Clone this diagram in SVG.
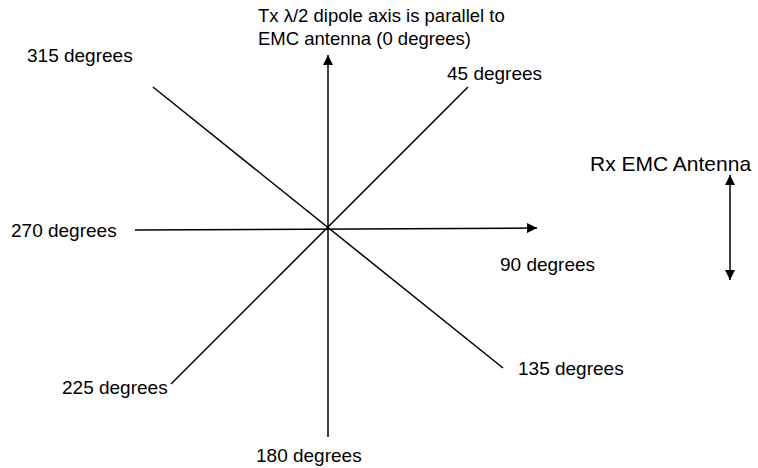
<svg xmlns="http://www.w3.org/2000/svg" width="758" height="468" viewBox="0 0 758 468">
<style>
text{font-family:"Liberation Sans",Arial,sans-serif;fill:#000}
.lbl{font-size:19px}
.top{font-size:18.5px}
.rx{font-size:21px}
.ln{stroke:#000;stroke-width:1.5;fill:none}
</style>
<defs>
<marker id="ah" markerUnits="userSpaceOnUse" markerWidth="10" markerHeight="10" refX="10" refY="5" orient="auto">
<path d="M0,0 L10,5 L0,10 z" fill="#000"/>
</marker>
</defs>
<rect width="758" height="468" fill="#fff"/>
<g id="connectors">
<line class="ln" x1="328" y1="437" x2="328" y2="55" marker-end="url(#ah)"/>
<line class="ln" x1="135" y1="230" x2="537" y2="228" marker-end="url(#ah)"/>
<line class="ln" x1="153" y1="87" x2="503" y2="368"/>
<line class="ln" x1="468" y1="87" x2="171" y2="384"/>
<line class="ln" x1="730" y1="225" x2="730" y2="175" marker-end="url(#ah)"/>
<line class="ln" x1="730" y1="225" x2="730" y2="280" marker-end="url(#ah)"/>
</g>
<g id="label-0">
<text class="top" x="258" y="22">Tx λ/2 dipole axis is parallel to</text>
<text class="top" x="258" y="45">EMC antenna (0 degrees)</text>
</g>
<g id="label-45"><text class="lbl" x="447" y="80">45 degrees</text></g>
<g id="label-90"><text class="lbl" x="500" y="271">90 degrees</text></g>
<g id="label-135"><text class="lbl" x="518" y="375">135 degrees</text></g>
<g id="label-180"><text class="lbl" x="256" y="462">180 degrees</text></g>
<g id="label-225"><text class="lbl" x="62" y="394">225 degrees</text></g>
<g id="label-270"><text class="lbl" x="11" y="237">270 degrees</text></g>
<g id="label-315"><text class="lbl" x="27" y="62">315 degrees</text></g>
<g id="rx-antenna"><text class="rx" x="590" y="171">Rx EMC Antenna</text></g>
</svg>
